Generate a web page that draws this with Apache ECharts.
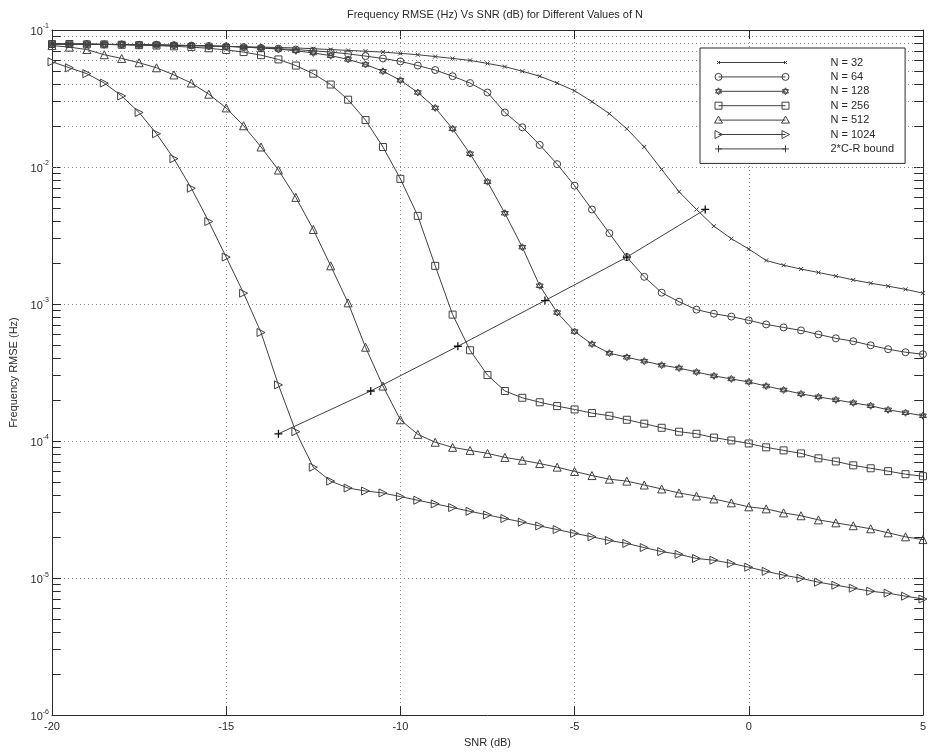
<!DOCTYPE html>
<html>
<head>
<meta charset="utf-8">
<script src="https://cdn.jsdelivr.net/npm/echarts@6/dist/echarts.min.js"></script>
<style>
  html, body { margin: 0; padding: 0; background: #fff; }
  #chart { width: 929px; height: 753px; }
</style>
</head>
<body>
<div id="chart"></div>
<script>
// SNR grid (dB), one sample every 0.5 dB
const snr = [-20, -19.5, -19, -18.5, -18, -17.5, -17, -16.5, -16, -15.5, -15, -14.5, -14, -13.5, -13, -12.5, -12,
  -11.5, -11, -10.5, -10, -9.5, -9, -8.5, -8, -7.5, -7, -6.5, -6, -5.5, -5, -4.5, -4, -3.5, -3, -2.5, -2,
  -1.5, -1, -0.5, 0, 0.5, 1, 1.5, 2, 2.5, 3, 3.5, 4, 4.5, 5];

// Frequency RMSE (Hz) for each record length N
const rmseN32 = [7.9e-2, 7.9e-2, 7.85e-2, 7.85e-2, 7.8e-2, 7.8e-2, 7.75e-2, 7.7e-2, 7.7e-2, 7.65e-2, 7.6e-2,
  7.55e-2, 7.5e-2, 7.45e-2, 7.4e-2, 7.3e-2, 7.2e-2, 7.1e-2, 7.0e-2, 6.9e-2, 6.75e-2, 6.6e-2, 6.4e-2, 6.2e-2,
  6.0e-2, 5.7e-2, 5.4e-2, 5.0e-2, 4.6e-2, 4.1e-2, 3.6e-2, 3.0e-2, 2.45e-2, 1.9e-2, 1.4e-2, 9.6e-3, 6.6e-3,
  4.9e-3, 3.7e-3, 3.0e-3, 2.52e-3, 2.08e-3, 1.92e-3, 1.8e-3, 1.7e-3, 1.6e-3, 1.5e-3, 1.42e-3, 1.35e-3, 1.28e-3, 1.2e-3];
const rmseN64 = [7.9e-2, 7.9e-2, 7.9e-2, 7.85e-2, 7.85e-2, 7.8e-2, 7.8e-2, 7.75e-2, 7.7e-2, 7.65e-2, 7.6e-2,
  7.5e-2, 7.4e-2, 7.3e-2, 7.2e-2, 7.05e-2, 6.9e-2, 6.7e-2, 6.45e-2, 6.2e-2, 5.9e-2, 5.5e-2, 5.1e-2, 4.6e-2,
  4.1e-2, 3.5e-2, 2.5e-2, 1.95e-2, 1.45e-2, 1.05e-2, 7.31e-3, 4.9e-3, 3.29e-3, 2.2e-3, 1.58e-3, 1.21e-3, 1.04e-3,
  9.1e-4, 8.5e-4, 8.1e-4, 7.6e-4, 7.1e-4, 6.75e-4, 6.42e-4, 6.0e-4, 5.62e-4, 5.35e-4, 5.0e-4, 4.68e-4, 4.45e-4, 4.3e-4];
const rmseN128 = [7.9e-2, 7.9e-2, 7.9e-2, 7.85e-2, 7.85e-2, 7.8e-2, 7.8e-2, 7.75e-2, 7.7e-2, 7.65e-2, 7.6e-2,
  7.5e-2, 7.4e-2, 7.25e-2, 7.05e-2, 6.8e-2, 6.5e-2, 6.1e-2, 5.6e-2, 5.0e-2, 4.3e-2, 3.5e-2, 2.7e-2, 1.9e-2,
  1.25e-2, 7.8e-3, 4.6e-3, 2.6e-3, 1.36e-3, 8.67e-4, 6.3e-4, 5.1e-4, 4.38e-4, 4.09e-4, 3.83e-4, 3.58e-4, 3.41e-4,
  3.19e-4, 2.99e-4, 2.84e-4, 2.7e-4, 2.52e-4, 2.36e-4, 2.21e-4, 2.1e-4, 2.0e-4, 1.9e-4, 1.81e-4, 1.69e-4, 1.61e-4, 1.53e-4];
const rmseN256 = [7.9e-2, 7.9e-2, 7.85e-2, 7.85e-2, 7.8e-2, 7.75e-2, 7.7e-2, 7.6e-2, 7.5e-2, 7.35e-2, 7.15e-2,
  6.9e-2, 6.55e-2, 6.1e-2, 5.5e-2, 4.8e-2, 4.0e-2, 3.1e-2, 2.2e-2, 1.4e-2, 8.2e-3, 4.4e-3, 1.9e-3, 8.37e-4,
  4.6e-4, 3.03e-4, 2.32e-4, 2.07e-4, 1.92e-4, 1.8e-4, 1.7e-4, 1.6e-4, 1.53e-4, 1.43e-4, 1.34e-4, 1.25e-4, 1.17e-4,
  1.13e-4, 1.06e-4, 1.01e-4, 9.6e-5, 9.0e-5, 8.55e-5, 8.13e-5, 7.48e-5, 7.1e-5, 6.65e-5, 6.33e-5, 6.03e-5, 5.73e-5, 5.54e-5];
const rmseN512 = [7.7e-2, 7.5e-2, 7.2e-2, 6.6e-2, 6.2e-2, 5.77e-2, 5.3e-2, 4.7e-2, 4.1e-2, 3.4e-2, 2.7e-2,
  2.0e-2, 1.4e-2, 9.5e-3, 6.0e-3, 3.5e-3, 1.9e-3, 1.02e-3, 4.84e-4, 2.52e-4, 1.43e-4, 1.12e-4, 9.8e-5, 9.0e-5,
  8.55e-5, 8.13e-5, 7.6e-5, 7.24e-5, 6.85e-5, 6.45e-5, 6.0e-5, 5.6e-5, 5.27e-5, 5.1e-5, 4.78e-5, 4.47e-5, 4.18e-5,
  3.97e-5, 3.78e-5, 3.54e-5, 3.31e-5, 3.2e-5, 2.99e-5, 2.85e-5, 2.66e-5, 2.53e-5, 2.41e-5, 2.29e-5, 2.14e-5, 2.0e-5, 1.91e-5];
const rmseN1024 = [5.86e-2, 5.3e-2, 4.8e-2, 4.1e-2, 3.3e-2, 2.5e-2, 1.75e-2, 1.15e-2, 7.0e-3, 4.0e-3, 2.2e-3,
  1.2e-3, 6.2e-4, 2.57e-4, 1.17e-4, 6.44e-5, 5.1e-5, 4.54e-5, 4.32e-5, 4.18e-5, 3.93e-5, 3.7e-5, 3.48e-5, 3.27e-5,
  3.07e-5, 2.89e-5, 2.72e-5, 2.56e-5, 2.4e-5, 2.26e-5, 2.12e-5, 2.0e-5, 1.88e-5, 1.79e-5, 1.67e-5, 1.56e-5, 1.49e-5,
  1.39e-5, 1.35e-5, 1.28e-5, 1.2e-5, 1.12e-5, 1.05e-5, 9.97e-6, 9.33e-6, 8.87e-6, 8.44e-6, 8.02e-6, 7.76e-6, 7.38e-6, 7.03e-6];

// Twice the Cramer-Rao bound, evaluated at each curve's threshold SNR
const boundSnr = [-13.5, -10.85, -8.35, -5.85, -3.5, -1.25];
const boundRmse = [1.13e-4, 2.32e-4, 4.92e-4, 1.06e-3, 2.2e-3, 4.9e-3];

const seriesNames = ['N = 32', 'N = 64', 'N = 128', 'N = 256', 'N = 512', 'N = 1024', '2*C-R bound'];
const titleText = 'Frequency RMSE (Hz) Vs SNR (dB) for Different Values of N';
const xTitle = 'SNR (dB)';
const yTitle = 'Frequency RMSE (Hz)';

const FONT = '"Liberation Sans", Arial, Helvetica, sans-serif';
const INK = '#2a2a2a';
const LINE = '#404040';
const GRID = '#8a8a8a';

// Marker shapes (outline only)
const SYM = {
  cross: 'path://M0,0L10,10M0,10L10,0',
  hexagram: 'path://M5,0L9.33,7.5L0.67,7.5Z M5,10L0.67,2.5L9.33,2.5Z',
  triRight: 'path://M0,0L10,5L0,10Z',
  plus: 'path://M5,0L5,10M0,5L10,5'
};

// Legend samples: a line with a marker at each end
function legendIcon(marker) {
  const ends = [4, 71];
  let d = 'path://M0,0 M111,10 M4,5 L71,5';
  ends.forEach(c => {
    if (marker === 'dot') d += ` M${c - 1.5},3.5 L${c + 1.5},6.5 M${c - 1.5},6.5 L${c + 1.5},3.5`;
    if (marker === 'circle') d += ` M${c + 3.5},5 A3.5,3.5 0 1,1 ${c - 3.5},5 A3.5,3.5 0 1,1 ${c + 3.5},5 Z`;
    if (marker === 'hex') d += ` M${c},1.5 L${c + 3},6.7 L${c - 3},6.7 Z M${c},8.5 L${c - 3},3.3 L${c + 3},3.3 Z`;
    if (marker === 'square') d += ` M${c - 3.5},1.5 L${c + 3.5},1.5 L${c + 3.5},8.5 L${c - 3.5},8.5 Z`;
    if (marker === 'tri') d += ` M${c},1 L${c + 4},8 L${c - 4},8 Z`;
    if (marker === 'triR') d += ` M${c - 3.5},1 L${c + 4},5 L${c - 3.5},9 Z`;
    if (marker === 'plus') d += ` M${c - 3.5},5 L${c + 3.5},5 M${c},1.5 L${c},8.5`;
  });
  return d;
}
const legendMarkers = ['dot', 'circle', 'hex', 'square', 'tri', 'triR', 'plus'];

function pairs(xs, ys) { return xs.map((x, i) => [x, ys[i]]); }

// Log-axis minor grid levels (2..9 within each decade)
const minorLevels = [];
for (let k = -6; k <= -2; k++) {
  for (let m = 2; m <= 9; m++) minorLevels.push(+(m * Math.pow(10, k)).toPrecision(3));
}
const tickLen = 0.25; // in dB units along x

const curveDefs = [
  { name: seriesNames[0], data: rmseN32, symbol: SYM.cross, size: 4 },
  { name: seriesNames[1], data: rmseN64, symbol: 'circle', size: 7 },
  { name: seriesNames[2], data: rmseN128, symbol: SYM.hexagram, size: 7 },
  { name: seriesNames[3], data: rmseN256, symbol: 'rect', size: 7 },
  { name: seriesNames[4], data: rmseN512, symbol: 'triangle', size: 8 },
  { name: seriesNames[5], data: rmseN1024, symbol: SYM.triRight, size: 8 }
];

const series = curveDefs.map(c => ({
  name: c.name,
  type: 'line',
  data: pairs(snr, c.data),
  symbol: c.symbol,
  symbolSize: c.size,
  showAllSymbol: true,
  lineStyle: { color: LINE, width: 1 },
  itemStyle: { color: 'rgba(0,0,0,0)', borderColor: LINE, borderWidth: 1 },
  z: 3
}));

series.push({
  name: seriesNames[6],
  type: 'line',
  data: pairs(boundSnr, boundRmse),
  symbol: SYM.plus,
  symbolSize: 8,
  lineStyle: { color: LINE, width: 1 },
  itemStyle: { color: 'rgba(0,0,0,0)', borderColor: '#111', borderWidth: 1.3 },
  z: 4
});

// Minor grid lines and minor ticks of the log axis
series.push({
  name: 'minor-grid',
  type: 'line',
  data: [],
  silent: true,
  markLine: {
    silent: true,
    symbol: 'none',
    z: 1,
    animation: false,
    label: { show: false },
    lineStyle: { type: [1, 3], color: GRID, width: 1 },
    data: minorLevels.map(v => ({ yAxis: v }))
  }
});
series.push({
  name: 'minor-ticks',
  type: 'line',
  data: [],
  silent: true,
  markLine: {
    silent: true,
    symbol: 'none',
    z: 2,
    animation: false,
    label: { show: false },
    lineStyle: { type: 'solid', color: INK, width: 1 },
    data: minorLevels.flatMap(v => [
      [{ coord: [-20, v] }, { coord: [-20 + tickLen, v] }],
      [{ coord: [5 - tickLen, v] }, { coord: [5, v] }]
    ])
  }
});

const axisLineStyle = { color: INK, width: 1 };
const tickStyle = { color: INK, width: 1 };

const option = {
  animation: false,
  backgroundColor: '#fff',
  textStyle: { fontFamily: FONT },
  title: {
    text: titleText,
    left: 490,
    top: 4,
    textAlign: 'center',
    textStyle: { fontSize: 11, fontWeight: 'normal', color: INK, fontFamily: FONT }
  },
  grid: { left: 52, right: 1, top: 30, bottom: 32, show: false },
  legend: {
    orient: 'vertical',
    left: 700,
    top: 48,
    padding: [9, 11, 9, 14],
    itemWidth: 111,
    itemHeight: 10,
    itemGap: 3.4,
    selectedMode: false,
    backgroundColor: '#fff',
    borderColor: INK,
    borderWidth: 1,
    borderRadius: 0,
    textStyle: { fontSize: 11, color: INK, fontFamily: FONT },
    itemStyle: { color: 'rgba(0,0,0,0)', borderColor: LINE, borderWidth: 1 },
    data: seriesNames.map((n, i) => ({ name: n, icon: legendIcon(legendMarkers[i]) }))
  },
  xAxis: [
    {
      type: 'value', min: -20, max: 5, interval: 5, position: 'bottom',
      axisLine: { show: true, onZero: false, lineStyle: axisLineStyle },
      axisTick: { show: true, inside: true, length: 9, lineStyle: tickStyle },
      axisLabel: { color: INK, fontSize: 11, margin: 6, fontFamily: FONT },
      splitLine: { show: true, lineStyle: { type: [1, 3], color: GRID, width: 1 } },
      name: xTitle, nameLocation: 'middle', nameGap: 20,
      nameTextStyle: { color: INK, fontSize: 11, fontFamily: FONT, verticalAlign: 'top' }
    },
    {
      type: 'value', min: -20, max: 5, interval: 5, position: 'top',
      axisLine: { show: true, onZero: false, lineStyle: axisLineStyle },
      axisTick: { show: true, inside: true, length: 9, lineStyle: tickStyle },
      axisLabel: { show: false },
      splitLine: { show: false }
    }
  ],
  yAxis: [
    {
      type: 'log', logBase: 10, min: 1e-6, max: 1e-1, position: 'left',
      axisLine: { show: true, onZero: false, lineStyle: axisLineStyle },
      axisTick: { show: true, inside: true, length: 9, lineStyle: tickStyle },
      axisLabel: {
        margin: 3,
        formatter: v => '{b|10}{e|' + Math.round(Math.log10(v)) + '}',
        rich: {
          b: { fontSize: 11, color: INK, fontFamily: FONT, verticalAlign: 'bottom' },
          e: { fontSize: 7, color: INK, fontFamily: FONT, verticalAlign: 'bottom', padding: [0, 0, 7, 0] }
        }
      },
      splitLine: { show: true, lineStyle: { type: [1, 3], color: GRID, width: 1 } },
      name: yTitle, nameLocation: 'middle', nameGap: 29, nameRotate: 90,
      nameTextStyle: { color: INK, fontSize: 11, fontFamily: FONT }
    },
    {
      type: 'log', logBase: 10, min: 1e-6, max: 1e-1, position: 'right',
      axisLine: { show: true, onZero: false, lineStyle: axisLineStyle },
      axisTick: { show: true, inside: true, length: 9, lineStyle: tickStyle },
      axisLabel: { show: false },
      splitLine: { show: false }
    }
  ],
  series: series
};

const chart = echarts.init(document.getElementById('chart'), null, { renderer: 'canvas' });
chart.setOption(option);
</script>
</body>
</html>
